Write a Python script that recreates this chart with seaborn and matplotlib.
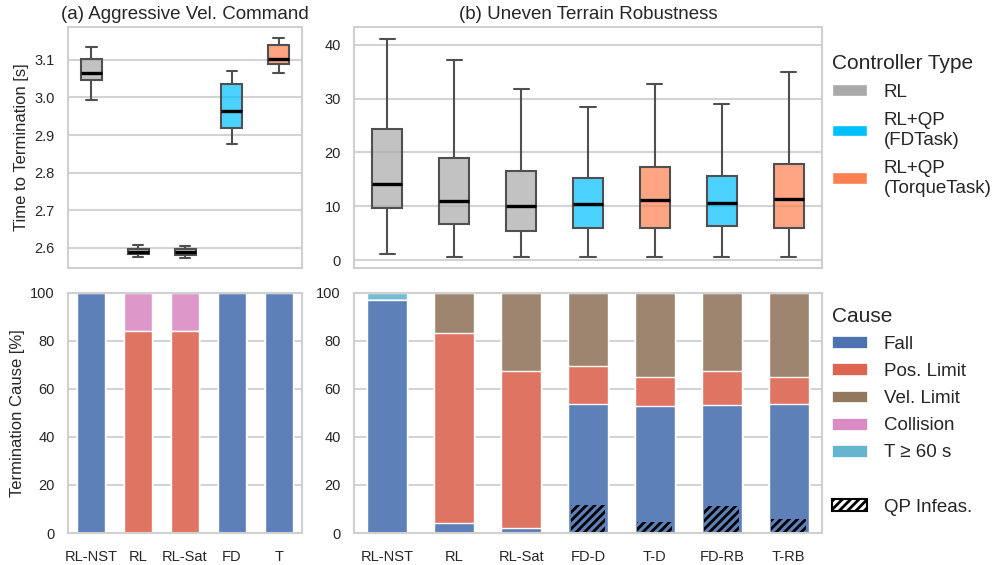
import numpy as np
import pandas as pd
import seaborn as sns
import matplotlib.pyplot as plt
from matplotlib.patches import Patch
from matplotlib.colors import to_rgb

# controller types
type_names = ['RL', 'RL+QP\n(FDTask)', 'RL+QP\n(TorqueTask)']
type_colors = ['#a9a9a9', '#00bfff', '#ff7f50']

# (a) aggressive vel. command, box summaries [min, q1, median, q3, max]
agg_labels = ['RL-NST', 'RL', 'RL-Sat', 'FD', 'T']
agg_types = ['RL', 'RL', 'RL', 'RL+QP\n(FDTask)', 'RL+QP\n(TorqueTask)']
agg_time = [
    [2.994, 3.045, 3.064, 3.103, 3.133],
    [2.575, 2.583, 2.589, 2.598, 2.609],
    [2.574, 2.581, 2.588, 2.598, 2.605],
    [2.875, 2.918, 2.965, 3.035, 3.071],
    [3.066, 3.088, 3.103, 3.139, 3.158],
]

# (b) uneven terrain robustness
ter_labels = ['RL-NST', 'RL', 'RL-Sat', 'FD-D', 'T-D', 'FD-RB', 'T-RB']
ter_types = ['RL', 'RL', 'RL', 'RL+QP\n(FDTask)', 'RL+QP\n(TorqueTask)',
             'RL+QP\n(FDTask)', 'RL+QP\n(TorqueTask)']
ter_time = [
    [1.1, 9.7, 14.1, 24.4, 41.1],
    [0.55, 6.7, 10.9, 18.9, 37.1],
    [0.55, 5.4, 10.0, 16.5, 31.7],
    [0.55, 5.9, 10.4, 15.2, 28.5],
    [0.55, 5.9, 11.2, 17.3, 32.7],
    [0.55, 6.3, 10.6, 15.7, 29.0],
    [0.55, 6.0, 11.4, 17.8, 35.0],
]

# termination causes [%]
cause_names = ['Fall', 'Pos. Limit', 'Vel. Limit', 'Collision', 'T ≥ 60 s']
cause_colors = ['#4c72b0', '#dd6550', '#937860', '#da8bc3', '#64b5cd']

agg_fall = [100, 0, 0, 100, 100]
agg_pos = [0, 84, 84, 0, 0]
agg_vel = [0, 0, 0, 0, 0]
agg_coll = [0, 16, 16, 0, 0]
agg_t60 = [0, 0, 0, 0, 0]

ter_fall = [96.7, 4.0, 2.1, 53.6, 52.8, 53.2, 53.6]
ter_pos = [0, 79.1, 65.2, 15.8, 12.0, 14.3, 11.2]
ter_vel = [0, 16.9, 32.7, 30.6, 35.2, 32.5, 34.8]
ter_coll = [0, 0, 0, 0, 0, 0, 0]
ter_t60 = [3.3, 0, 0, 0, 0, 0, 0.4]
ter_qp_infeas = [0, 0, 0, 11.5, 4.7, 11.1, 5.8]


def lighten(c, alpha=0.9):
    r = np.array(to_rgb(c))
    return tuple(alpha * r + (1 - alpha))


def box_panel(ax, labels, types, summaries):
    df = pd.DataFrame([(lab, typ, v) for lab, typ, vals in zip(labels, types, summaries) for v in vals],
                      columns=['label', 'type', 'time'])
    sns.boxplot(data=df, x='label', y='time', hue='type', order=labels, hue_order=type_names,
                palette=type_colors, dodge=False, width=0.45, whis=(0, 100), saturation=1,
                linecolor='#505050', linewidth=1.5, legend=False,
                medianprops=dict(color='black', linewidth=2.4), ax=ax)
    for p in ax.patches:
        fc = p.get_facecolor()
        p.set_facecolor((fc[0], fc[1], fc[2], 0.7))
    ax.set_xlabel('')
    ax.set_ylabel('')
    ax.set_xticklabels([])


def cause_panel(ax, labels, parts, qp=None):
    cum = np.cumsum(np.array(parts, dtype=float), axis=0)
    for i in reversed(range(len(parts))):
        sns.barplot(x=labels, y=cum[i], order=labels, color=lighten(cause_colors[i]), width=0.6,
                    saturation=1, edgecolor='white', linewidth=1, errorbar=None, ax=ax)
    if qp is not None:
        n0 = len(ax.patches)
        sns.barplot(x=labels, y=qp, order=labels, color='black', width=0.52,
                    saturation=1, errorbar=None, ax=ax)
        for p in ax.patches[n0:]:
            p.set_facecolor('none')
            p.set_edgecolor('black')
            p.set_linewidth(0)
            p.set_hatch('////')
    ax.set_ylim(0, 100)
    ax.set_xlabel('')
    ax.set_ylabel('')
    ax.tick_params(axis='x', pad=6)


sns.set_theme(style="whitegrid", rc={
    'axes.edgecolor': '#d0d0d0', 'axes.linewidth': 1.5,
    'grid.color': '#d3d3d3', 'grid.linewidth': 1.5,
    'hatch.linewidth': 2.0,
})
plt.rcParams['font.family'] = ['Liberation Sans', 'DejaVu Sans']
plt.rcParams['xtick.labelsize'] = 10.5
plt.rcParams['ytick.labelsize'] = 10.5

fig, axes = plt.subplots(2, 2, figsize=(9.96, 5.65), gridspec_kw={'width_ratios': [1, 2]})
plt.subplots_adjust(left=0.0683, right=0.8253, bottom=0.0566, top=0.9522, wspace=0.148, hspace=0.104)

ax_tl, ax_tr = axes[0]
ax_bl, ax_br = axes[1]

box_panel(ax_tl, agg_labels, agg_types, agg_time)
ax_tl.set_ylim(2.548, 3.187)
ax_tl.set_yticks([2.6, 2.7, 2.8, 2.9, 3.0, 3.1])
ax_tl.set_ylabel('Time to Termination [s]', fontsize=12)
ax_tl.set_title('(a) Aggressive Vel. Command', fontsize=13.5)

box_panel(ax_tr, ter_labels, ter_types, ter_time)
ax_tr.set_ylim(-1.36, 43.3)
ax_tr.set_yticks([0, 10, 20, 30, 40])
ax_tr.set_title('(b) Uneven Terrain Robustness', fontsize=13.5)

cause_panel(ax_bl, agg_labels, [agg_fall, agg_pos, agg_vel, agg_coll, agg_t60])
ax_bl.set_ylabel('Termination Cause [%]', fontsize=12)
cause_panel(ax_br, ter_labels, [ter_fall, ter_pos, ter_vel, ter_coll, ter_t60], ter_qp_infeas)

ctrl_handles = [Patch(facecolor=c, label=n) for c, n in zip(type_colors, type_names)]
ax_tr.legend(handles=ctrl_handles, title='Controller Type', loc='upper left',
             bbox_to_anchor=(1.005, 0.92), borderaxespad=0, frameon=False,
             fontsize=13.5, title_fontsize=15, alignment='left',
             handlelength=1.87, handleheight=0.59, handletextpad=0.9, labelspacing=0.6)

cause_handles = [Patch(facecolor=c, edgecolor='white', linewidth=0.5, label=n)
                 for c, n in zip(cause_colors, cause_names)]
cause_handles.append(Patch(facecolor='none', edgecolor='none', label=' '))
cause_handles.append(Patch(facecolor='white', edgecolor='black', hatch='////', linewidth=1.5, label='QP Infeas.'))
ax_br.legend(handles=cause_handles, title='Cause', loc='upper left',
             bbox_to_anchor=(1.005, 0.972), borderaxespad=0, frameon=False,
             fontsize=13.5, title_fontsize=15, alignment='left',
             handlelength=1.87, handleheight=0.59, handletextpad=0.9, labelspacing=0.54)

plt.savefig('out.png', dpi=100)
